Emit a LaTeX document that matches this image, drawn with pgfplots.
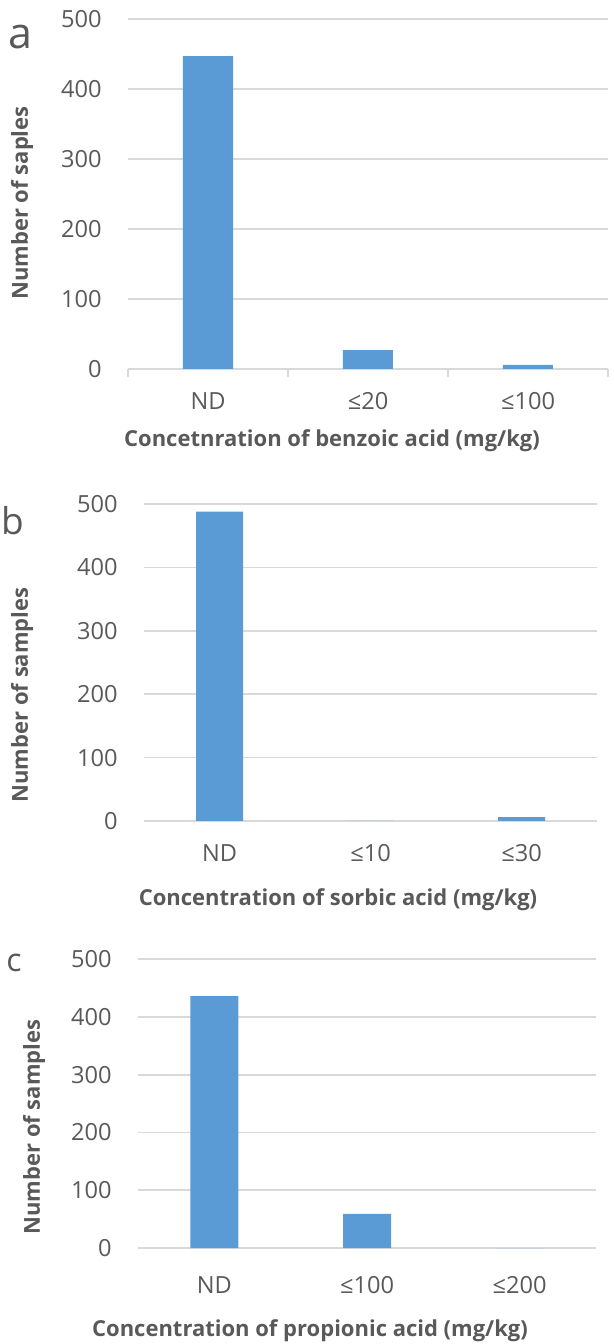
\documentclass[border=0pt]{standalone}
\usepackage{pgfplots}
\pgfplotsset{compat=1.18}
\usepackage{fontspec}
\setmainfont{Open Sans}
\definecolor{barblue}{HTML}{5B9BD5}
\definecolor{txtgray}{HTML}{595959}
\definecolor{gridgray}{HTML}{D9D9D9}

\pgfplotsset{panel/.style={
  scale only axis, anchor=south west,
  ymin=0, ymax=500, ytick={0,100,...,500},
  xmin=-0.5, xmax=2.5, xtick={0,1,2},
  ymajorgrids, grid style={gridgray, line width=0.9pt},
  axis line style={draw=none},
  major tick length=0pt,
  tick label style={font=\fontsize{11.8}{14}\selectfont, text=txtgray},
  yticklabel style={anchor=east, inner sep=0pt, xshift=-13pt},
  /pgf/number format/assume math mode=true,
  clip=false,
}}
\tikzset{lab/.style={text=txtgray, font=\bfseries\fontsize{11}{13}\selectfont},
  letter/.style={text=txtgray, inner sep=0pt}}

\begin{document}
\begin{tikzpicture}
\path[use as bounding box] (0,0) rectangle (307pt,672pt);

% a: benzoic acid
\begin{axis}[panel, at={(64pt,487.5pt)}, width=240pt, height=175pt,
  xticklabels={ND,≤20,≤100},
  xticklabel style={anchor=base, inner sep=0pt, yshift=-20.5pt},
  minor xtick={-0.5,0.5,1.5,2.5}, minor tick length=4pt, xtick align=outside,
  minor tick style={gridgray, line width=0.9pt},
  axis lines*=left,
  x axis line style={draw=gridgray, line width=0.9pt},
  y axis line style={draw=none}]
  \addplot[ybar, bar shift=0pt, bar width=25pt, fill=barblue, draw=none]
    coordinates {(0,447) (1,27) (2,6)};
\end{axis}

% b: sorbic acid
\begin{axis}[panel, at={(72pt,261.5pt)}, width=226.5pt, height=158.5pt,
  xticklabels={ND,≤10,≤30},
  xticklabel style={anchor=base, inner sep=0pt, yshift=-20.5pt}]
  \addplot[ybar, bar shift=0pt, bar width=23.5pt, fill=barblue, draw=none]
    coordinates {(0,488) (1,0) (2,6)};
\end{axis}

% c: propionic acid
\begin{axis}[panel, at={(69pt,48pt)}, width=229pt, height=144.5pt,
  xticklabels={ND,≤100,≤200},
  xticklabel style={anchor=base, inner sep=0pt, yshift=-22.5pt}]
  \addplot[ybar, bar shift=0pt, bar width=24pt, fill=barblue, draw=none]
    coordinates {(0,436) (1,59) (2,0)};
\end{axis}

\node[lab, anchor=base] at (166pt,448.5pt) {Concetnration of benzoic acid (mg/kg)};
\node[lab, anchor=base] at (169pt,219pt) {Concentration of sorbic acid (mg/kg)};
\node[lab, anchor=base] at (155pt,3.5pt) {Concentration of propionic acid (mg/kg)};

\node[lab, rotate=90] at (11pt,570.5pt) {Number of saples};
\node[lab, rotate=90] at (11pt,324.5pt) {Number of samples};
\node[lab, rotate=90] at (17pt,108.5pt) {Number of samples};

\node[letter, font=\fontsize{21.5}{24}\selectfont] at (10pt,653.5pt) {a};
\node[letter, font=\fontsize{18.5}{22}\selectfont] at (6.5pt,411.5pt) {b};
\node[letter, font=\fontsize{16}{18}\selectfont] at (7pt,190.5pt) {c};
\end{tikzpicture}
\end{document}
